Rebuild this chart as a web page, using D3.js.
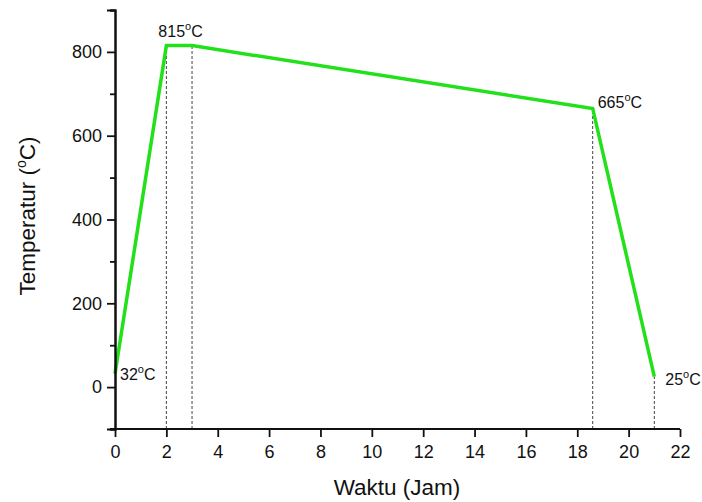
<!DOCTYPE html>
<html>
  <head>
    <meta charset="UTF-8">
    <title>Temperatur vs Waktu</title>
    <style type="text/css">
      body { margin: 0; background: #fff; }
      text { font-family: 'Liberation Sans', Arial, sans-serif; fill: #111; }
    </style>
  </head>
  <body>
    <script src="https://d3js.org/d3.v7.min.js"></script>
    <script>

      // Data
      var waktu = [0, 2, 3, 18.6, 21];
      var temperatur = [32, 815, 815, 665, 25];
      var pointLabels = ["32", "815", "", "665", "25"];
      var xTicks = [0, 2, 4, 6, 8, 10, 12, 14, 16, 18, 20, 22];
      var yTicks = [0, 200, 400, 600, 800];
      var yMinorTicks = [-100, 100, 300, 500, 700, 900];
      var dropLines = [2, 3, 18.6, 21];

      // Build svg and canvas
      var svgWidth = 702,
          svgHeight = 502,
          margin = {top:10, right:22, bottom:73, left:115},
          width = svgWidth - margin.left - margin.right,
          height = svgHeight - margin.top - margin.bottom;

      var svg = d3.select("body")
                  .append("svg")
                  .attr("width", svgWidth)
                  .attr("height", svgHeight);

      var canvas = svg.append("g")
                      .attr("transform", "translate("+margin.left+","+margin.top+")");

      // Scales
      var xScale = d3.scaleLinear().domain([0, 22]).range([0, width]);
      var yScale = d3.scaleLinear().domain([-100, 900]).range([height, 0]);

      var data = waktu.map((d, i) => ({x: d, y: temperatur[i], label: pointLabels[i]}));

      // Drop lines
      canvas.selectAll(".drop")
            .data(dropLines)
            .enter()
            .append("line")
            .attr("class", "drop")
            .attr("x1", d => xScale(d))
            .attr("x2", d => xScale(d))
            .attr("y1", height)
            .attr("y2", d => yScale(temperatur[waktu.indexOf(d)]))
            .attr("stroke", "#444")
            .attr("stroke-width", 1)
            .attr("stroke-dasharray", "3,2");

      // Line
      var line = d3.line().x(d => xScale(d.x)).y(d => yScale(d.y));
      canvas.append("path")
            .datum(data)
            .attr("d", line)
            .attr("fill", "none")
            .attr("stroke", "#22e01a")
            .attr("stroke-width", 3.5)
            .attr("stroke-linejoin", "miter");

      // Axes
      var yAxis = d3.axisLeft(yScale).tickValues(yTicks).tickSize(8).tickPadding(5).tickFormat(d3.format("d"));
      var yMinor = d3.axisLeft(yScale).tickValues(yMinorTicks).tickSize(5).tickFormat("");
      var xAxis = d3.axisBottom(xScale).tickValues(xTicks).tickSize(8).tickPadding(8).tickFormat(d3.format("d"));

      var gy = canvas.append("g").call(yAxis);
      canvas.append("g").call(yMinor);
      var gx = canvas.append("g")
                     .attr("transform", "translate(0,"+height+")")
                     .call(xAxis);

      canvas.selectAll(".domain").attr("stroke", "#111").attr("stroke-width", 2);
      canvas.selectAll(".tick line").attr("stroke", "#111").attr("stroke-width", 1.8);
      gx.attr("font-size", 18).attr("font-family", null);
      gy.attr("font-size", 18).attr("font-family", null);
      canvas.selectAll(".tick text").attr("fill", "#111");

      // x axis extends a bit left of y axis
      gx.select(".domain").attr("d", "M-5,0H" + width);

      // Point labels
      function degLabel(g, value) {
        g.append("tspan").text(value);
        g.append("tspan").attr("font-size", 11).attr("dy", -7).text("o");
        g.append("tspan").attr("dy", 7).text("C");
      }

      var labelPos = [
        {dx: 5, dy: 6},
        {dx: -8, dy: -9},
        null,
        {dx: 5, dy: 0},
        {dx: 11, dy: 8}
      ];

      data.forEach(function(d, i) {
        if (!d.label) return;
        var p = labelPos[i];
        var t = canvas.append("text")
                      .attr("x", xScale(d.x) + p.dx)
                      .attr("y", yScale(d.y) + p.dy)
                      .attr("font-size", 16);
        degLabel(t, d.label);
      });

      // Axis titles
      svg.append("text")
         .attr("x", 397)
         .attr("y", 495)
         .attr("text-anchor", "middle")
         .attr("font-size", 22.5)
         .text("Waktu (Jam)");

      var yt = svg.append("text")
                  .attr("transform", "translate(35,216) rotate(-90)")
                  .attr("text-anchor", "middle")
                  .attr("font-size", 22.5);
      yt.append("tspan").text("Temperatur (");
      yt.append("tspan").attr("font-size", 14).attr("dy", -9).text("o");
      yt.append("tspan").attr("dy", 9).text("C)");

    </script>
  </body>
</html>
